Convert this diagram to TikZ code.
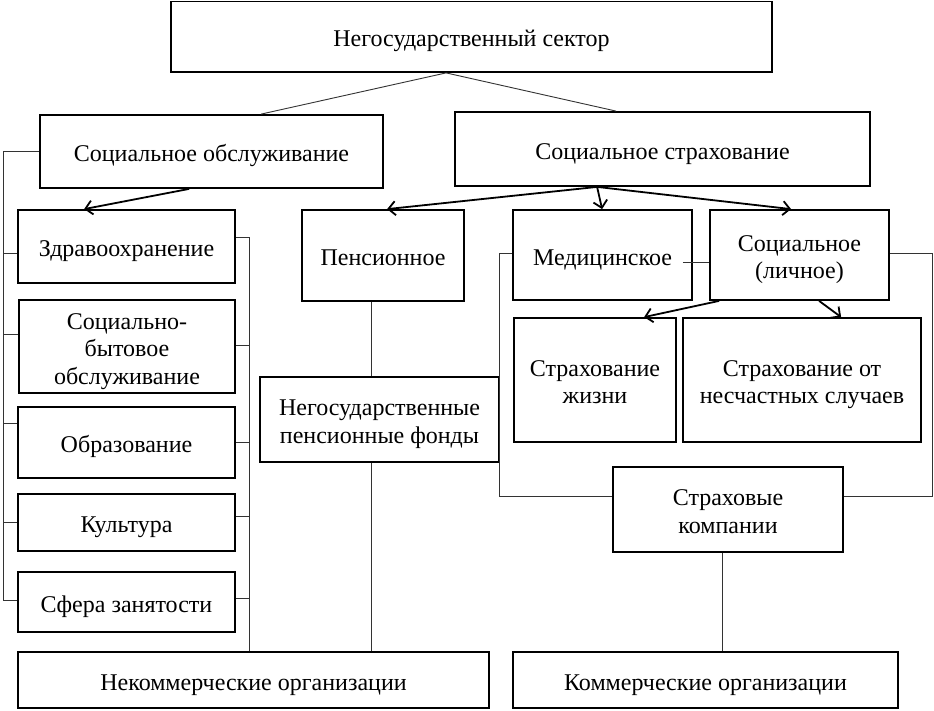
\documentclass[tikz,border=0pt]{standalone}
\usepackage{fontspec}
\setmainfont{Liberation Serif}
\usetikzlibrary{arrows.meta,calc}
\tikzset{
  box/.style={draw, line width=1.8pt, inner sep=0pt},
  txt/.style={inner sep=0pt, align=center, font=\fontsize{24}{27.5}\selectfont},
  conn/.style={line width=0.9pt, draw=black!80},
  arr/.style={line width=1.8pt, -{Straight Barb[length=7pt,width=14pt]}},
}
\newcommand\bx[6]{\node[box, minimum width={(#4-#2)*1pt}, minimum height={(#5-#3)*1pt}] (#1) at ({(#2+#4)/2},{(#3+#5)/2}) {};
  \node[txt] (#1t) at ([yshift=-4.5pt]#1.center) {#6};}
\begin{document}
\begin{tikzpicture}[x=1pt,y=-1pt]
\useasboundingbox (0,0) rectangle (934,710);
\fill[white] (0,0) rectangle (934,710);
% boxes
\bx{top}{171}{1.5}{772}{72}{\strut Негосударственный сектор}
\bx{socobs}{40}{115}{383}{188}{\strut Социальное обслуживание}
\bx{socstr}{455}{112}{870}{186}{\strut Социальное страхование}
\bx{zdrav}{18}{210}{235}{283}{\strut Здравоохранение}
\bx{socbyt}{19}{300}{235}{393}{\strut Социально-\\\strut бытовое\\\strut обслуживание}
\bx{obraz}{18}{407}{235}{478}{\strut Образование}
\bx{kult}{18}{494}{235}{551}{\strut Культура}
\bx{sfera}{18}{572}{235}{632}{\strut Сфера занятости}
\bx{nekom}{18}{652}{489}{708}{\strut Некоммерческие организации}
\bx{pens}{302}{210}{464}{301}{\strut Пенсионное}
\bx{npf}{260}{377}{499}{462}{\strut Негосударственные\\\strut пенсионные фонды}
\bx{med}{513}{210}{692}{300}{\strut Медицинское}
\bx{soclich}{710}{210}{889}{300}{\strut Социальное\\\strut (личное)}
\bx{strzh}{514}{318}{676}{442}{\strut Страхование\\\strut жизни}
\bx{strns}{683}{318}{921}{442}{\strut Страхование от\\\strut несчастных случаев}
\bx{strkomp}{613}{467}{843}{552}{\strut Страховые\\\strut компании}
\bx{kom}{513}{652}{898}{708}{\strut Коммерческие организации}
% top connectors
\coordinate (tp) at ([xshift=276pt]top.south west);
\draw[conn] (tp) -- ([xshift=222pt]socobs.north west);
\draw[conn] (tp) -- ([xshift=162pt]socstr.north west);
% arrows
\draw[arr] ([xshift=150pt]socobs.south west) -- ([xshift=67pt]zdrav.north west);
\coordinate (ss) at ([xshift=143pt]socstr.south west);
\draw[arr] (ss) -- ([xshift=86pt]pens.north west);
\draw[arr] (ss) -- ([xshift=90pt]med.north west);
\draw[arr] (ss) -- ([xshift=82pt]soclich.north west);
\draw[arr] ([xshift=10pt]soclich.south west) -- ([xshift=131pt]strzh.north west);
\draw[arr] ([xshift=110pt]soclich.south west) -- ([xshift=159pt]strns.north west);
% left bracket
\coordinate (lbB) at (3,600);
\draw[conn] (socobs.west) -- (socobs.west -| lbB) -- (lbB) -- (lbB -| sfera.west);
\draw[conn] ([yshift=-6.5pt]zdrav.west) -- ([yshift=-6.5pt]zdrav.west -| lbB);
\draw[conn] ([yshift=12.5pt]socbyt.west) -- ([yshift=12.5pt]socbyt.west -| lbB);
\draw[conn] ([yshift=19.5pt]obraz.west) -- ([yshift=19.5pt]obraz.west -| lbB);
\draw[conn] (kult.west) -- (kult.west -| lbB);
% right bracket
\coordinate (rbT) at (249,237);
\draw[conn] ([yshift=9.5pt]zdrav.east) -- (rbT) -- (rbT |- nekom.north);
\draw[conn] ([yshift=1.5pt]socbyt.east) -- ([yshift=1.5pt]socbyt.east -| rbT);
\draw[conn] (obraz.east) -- (obraz.east -| rbT);
\draw[conn] ([yshift=6.5pt]kult.east) -- ([yshift=6.5pt]kult.east -| rbT);
\draw[conn] ([yshift=4pt]sfera.east) -- ([yshift=4pt]sfera.east -| rbT);
% pension line
\coordinate (pl) at ([xshift=70pt]pens.south west);
\draw[conn] (pl) -- (pl |- npf.north);
\draw[conn] (pl |- npf.south) -- (pl |- nekom.north);
% medical left line
\coordinate (ml) at (499,253);
\coordinate (kl) at ([yshift=13pt]strkomp.west);
\draw[conn] ([yshift=2pt]med.west) -- (ml) -- (ml |- kl) -- (kl);
% medical to social
\draw[conn] ([xshift=-10pt,yshift=-7pt]med.east) -- ([yshift=-7pt]soclich.west);
% social right line
\coordinate (sr) at (932,253);
\coordinate (kr) at ([yshift=13.5pt]strkomp.east);
\draw[conn] ([yshift=2pt]soclich.east) -- (sr) -- (sr |- kr) -- (kr);
% strkomp to kom
\coordinate (kb) at ([xshift=-6pt]strkomp.south);
\draw[conn] (kb) -- (kb |- kom.north);
\end{tikzpicture}
\end{document}
